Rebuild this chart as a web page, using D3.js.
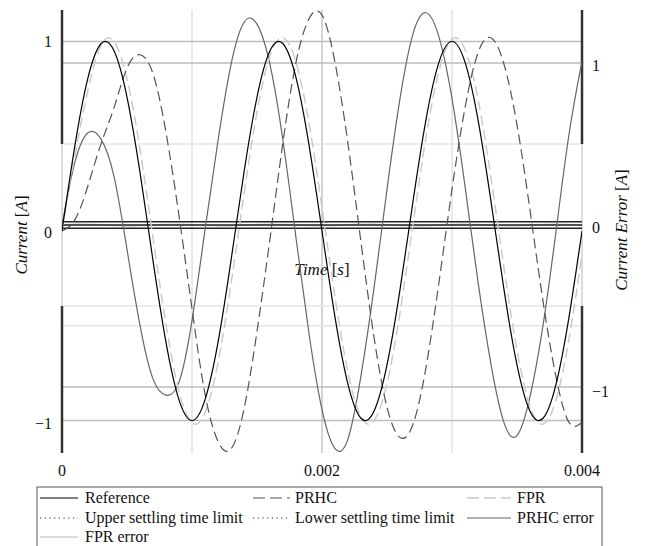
<!DOCTYPE html>
<html>
<head>
<meta charset="utf-8">
<script src="https://cdn.jsdelivr.net/npm/d3@7/dist/d3.min.js"></script>
<style>
  html, body { margin: 0; padding: 0; background: #fff; }
  svg { display: block; }
</style>
</head>
<body>
<svg id="chart" width="645" height="546" font-family="'Liberation Serif', 'DejaVu Serif', serif"></svg>
<script>
// Sample instants [s]
const timeS = [0, 0.0001, 0.0002, 0.0003, 0.0004, 0.0005, 0.0006, 0.0007, 0.0008, 0.0009,
  0.001, 0.0011, 0.0012, 0.0013, 0.0014, 0.0015, 0.0016, 0.0017, 0.0018, 0.0019,
  0.002, 0.0021, 0.0022, 0.0023, 0.0024, 0.0025, 0.0026, 0.0027, 0.0028, 0.0029,
  0.003, 0.0031, 0.0032, 0.0033, 0.0034, 0.0035, 0.0036, 0.0037, 0.0038, 0.0039, 0.004];

// Currents [A] (left axis)
const reference = [0, 0.454, 0.809, 0.988, 0.951, 0.707, 0.309, -0.156, -0.588, -0.891,
  -1, -0.891, -0.588, -0.156, 0.309, 0.707, 0.951, 0.988, 0.809, 0.454,
  0, -0.454, -0.809, -0.988, -0.951, -0.707, -0.309, 0.156, 0.588, 0.891,
  1, 0.891, 0.588, 0.156, -0.309, -0.707, -0.951, -0.988, -0.809, -0.454, 0];

const prhc = [0, 0.06, 0.24, 0.46, 0.65, 0.86, 0.93, 0.83, 0.52, 0.08,
  -0.41, -0.86, -1.11, -1.15, -0.94, -0.53, -0.04, 0.47, 0.89, 1.12,
  1.14, 0.89, 0.46, -0.06, -0.56, -0.93, -1.09, -1.02, -0.72, -0.27,
  0.22, 0.65, 0.94, 1.02, 0.88, 0.56, 0.11, -0.37, -0.77, -1.01, -1.01];

const fpr = [0, 0.40, 0.746, 0.980, 1.00, 0.804, 0.431, -0.036, -0.494, -0.846,
  -1.012, -0.958, -0.696, -0.281, 0.195, 0.628, 0.925, 1.019, 0.892, 0.570,
  0.124, -0.349, -0.746, -0.980, -1.001, -0.804, -0.431, 0.036, 0.494, 0.846,
  1.012, 0.958, 0.696, 0.281, -0.195, -0.628, -0.925, -1.019, -0.892, -0.570, -0.124];

// Current errors [A] (right axis)
const prhcError = [0, 0.39, 0.57, 0.53, 0.30, -0.15, -0.62, -0.95, -1.05, -0.97,
  -0.59, -0.03, 0.52, 0.99, 1.25, 1.24, 0.99, 0.52, -0.08, -0.67,
  -1.14, -1.38, -1.32, -0.93, -0.39, 0.22, 0.78, 1.18, 1.31, 1.16,
  0.78, 0.24, -0.35, -0.86, -1.22, -1.30, -1.06, -0.62, -0.04, 0.56, 1.01];

const fprError = [0, 0.006, 0.004, 0.002, -0.003, -0.006, -0.004, 0.001, 0.004, 0.006,
  0.003, -0.002, -0.005, -0.006, -0.002, 0.003, 0.005, 0.004, 0.001, -0.004,
  -0.006, -0.004, 0.002, 0.005, 0.006, 0.002, -0.003, -0.005, -0.005, -0.001,
  0.004, 0.006, 0.003, -0.002, -0.005, -0.005, -0.001, 0.003, 0.005, 0.004, 0];

const settlingUpper = 0.02;
const settlingLower = -0.02;

const xTicks = [0, 0.002, 0.004];
const xTickLabels = ["0", "0.002", "0.004"];
const leftTicks = [1, 0, -1];
const rightTicks = [1, 0, -1];
const xGridMinor = [0.001, 0.003];
const xGridMajor = [0.002];
const leftGrid = [1, -1];
const leftGridLight = [-0.5];
const rightGrid = [1, -1];
const rightGridLight = [0.5, -0.5];

const legendItems = ["Reference", "PRHC", "FPR", "Upper settling time limit",
  "Lower settling time limit", "PRHC error", "FPR error"];

// ---------- layout ----------
const svg = d3.select("#chart");
const plotTop = 10, plotBottom = 453, plotLeft = 62, plotRight = 582;

const x = d3.scaleLinear().domain([0, 0.004]).range([plotLeft, plotRight]);
const yL = d3.scaleLinear().domain([-1, 1]).range([420.5, 41.5]);
const yR = d3.scaleLinear().domain([-1, 1]).range([387, 63]);

const styles = {
  reference:  { stroke: "#000", width: 1.2, dash: null },
  prhc:       { stroke: "#555", width: 1.2, dash: "10,5" },
  fpr:        { stroke: "#c8c8c8", width: 1.4, dash: "10,5" },
  upper:      { stroke: "#222", width: 1.2, dash: "1.2,3.5" },
  lower:      { stroke: "#222", width: 1.2, dash: "1.2,3.5" },
  prhcError:  { stroke: "#666", width: 1.2, dash: null },
  fprError:   { stroke: "#cfcfcf", width: 1.3, dash: null }
};

svg.append("defs").append("clipPath").attr("id", "plotClip")
  .append("rect").attr("x", plotLeft).attr("y", plotTop)
  .attr("width", plotRight - plotLeft).attr("height", plotBottom - plotTop);

const grid = svg.append("g");
// vertical grid
grid.selectAll(".vgm").data(xGridMinor).join("line")
  .attr("x1", d => x(d)).attr("x2", d => x(d))
  .attr("y1", plotTop).attr("y2", plotBottom)
  .attr("stroke", "#e2e2e2").attr("stroke-width", 1.5);
grid.selectAll(".vgM").data(xGridMajor).join("line")
  .attr("x1", d => x(d)).attr("x2", d => x(d))
  .attr("y1", plotTop).attr("y2", plotBottom)
  .attr("stroke", "#c6c6c6").attr("stroke-width", 1.5);
// horizontal grid
function hLines(vals, scale, color) {
  grid.selectAll(null).data(vals).join("line")
    .attr("x1", plotLeft).attr("x2", plotRight)
    .attr("y1", d => scale(d)).attr("y2", d => scale(d))
    .attr("stroke", color).attr("stroke-width", 1.5);
}
hLines(leftGridLight, yL, "#e6e6e6");
hLines(rightGridLight, yR, "#e6e6e6");
hLines(leftGrid, yL, "#bdbdbd");
hLines(rightGrid, yR, "#bdbdbd");

// spines: light in the middle band, dark outside of it
[plotLeft, plotRight].forEach(px => {
  grid.append("line").attr("x1", px).attr("x2", px)
    .attr("y1", yR(0.5)).attr("y2", yR(-0.5))
    .attr("stroke", "#d0d0d0").attr("stroke-width", 1.5);
  grid.append("line").attr("x1", px).attr("x2", px)
    .attr("y1", plotTop).attr("y2", yR(0.5))
    .attr("stroke", "#333").attr("stroke-width", 2.5);
  grid.append("line").attr("x1", px).attr("x2", px)
    .attr("y1", yR(-0.5)).attr("y2", plotBottom)
    .attr("stroke", "#333").attr("stroke-width", 2.5);
});

// axis tick labels
const labels = svg.append("g").attr("font-size", 16).attr("fill", "#111");
labels.selectAll(".xt").data(xTicks).join("text")
  .attr("x", d => x(d)).attr("y", 476)
  .attr("text-anchor", "middle")
  .text((d, i) => xTickLabels[i]);
const fmt = d3.format("d");
labels.selectAll(".lt").data(leftTicks).join("text")
  .attr("x", 52).attr("y", d => yL(d) + 5 + (d < 0 ? 3 : d === 0 ? 2 : 0))
  .attr("text-anchor", "end")
  .text(d => fmt(d));
labels.selectAll(".rt").data(rightTicks).join("text")
  .attr("x", 592).attr("y", d => yR(d) + 8 + (d < 0 ? 2 : 0))
  .attr("text-anchor", "start")
  .text(d => fmt(d));

// axis titles
const leftTitle = svg.append("text").attr("font-size", 17).attr("fill", "#111")
  .attr("transform", "translate(27,235) rotate(-90)").attr("text-anchor", "middle");
leftTitle.append("tspan").attr("font-style", "italic").text("Current");
leftTitle.append("tspan").text(" [");
leftTitle.append("tspan").attr("font-style", "italic").text("A");
leftTitle.append("tspan").text("]");

const rightTitle = svg.append("text").attr("font-size", 17).attr("fill", "#111")
  .attr("transform", "translate(627,230) rotate(-90)").attr("text-anchor", "middle");
rightTitle.append("tspan").attr("font-style", "italic").text("Current Error");
rightTitle.append("tspan").text(" [");
rightTitle.append("tspan").attr("font-style", "italic").text("A");
rightTitle.append("tspan").text("]");

const timeTitle = svg.append("text").attr("font-size", 17).attr("fill", "#111")
  .attr("x", 322).attr("y", 275).attr("text-anchor", "middle");
timeTitle.append("tspan").attr("font-style", "italic").text("Time");
timeTitle.append("tspan").text(" [");
timeTitle.append("tspan").attr("font-style", "italic").text("s");
timeTitle.append("tspan").text("]");

// curves
const plot = svg.append("g").attr("clip-path", "url(#plotClip)");
function drawSeries(values, scale, st) {
  const line = d3.line()
    .x((d, i) => x(timeS[i]))
    .y(d => scale(d))
    .curve(d3.curveNatural);
  plot.append("path").datum(values)
    .attr("d", line)
    .attr("fill", "none")
    .attr("stroke", st.stroke)
    .attr("stroke-width", st.width)
    .attr("stroke-dasharray", st.dash)
    .attr("stroke-linejoin", "round");
}
drawSeries(fprError, yR, styles.fprError);

// settling limits and error-axis zero line
[settlingUpper, 0, settlingLower].forEach(v => {
  plot.append("line")
    .attr("x1", plotLeft).attr("x2", plotRight)
    .attr("y1", yR(v)).attr("y2", yR(v))
    .attr("stroke", "#222").attr("stroke-width", 1.6);
});

drawSeries(prhcError, yR, styles.prhcError);
drawSeries(fpr, yL, styles.fpr);
drawSeries(prhc, yL, styles.prhc);
drawSeries(reference, yL, styles.reference);

// legend
const legend = svg.append("g").attr("font-size", 16).attr("fill", "#111");
legend.append("rect").attr("x", 37).attr("y", 487)
  .attr("width", 565).attr("height", 80)
  .attr("fill", "#fff").attr("stroke", "#555").attr("stroke-width", 1);
const legendStyles = [styles.reference, styles.prhc, styles.fpr, styles.upper,
  styles.lower, styles.prhcError, styles.fprError];
const colSym = [40, 253, 467], colSymEnd = [78, 290, 511], colText = [85, 295, 517];
const rowY = [498, 518, 537];
legendItems.forEach((name, i) => {
  const c = i % 3, r = Math.floor(i / 3);
  const st = legendStyles[i];
  legend.append("line")
    .attr("x1", colSym[c]).attr("x2", colSymEnd[c])
    .attr("y1", rowY[r]).attr("y2", rowY[r])
    .attr("stroke", st.stroke).attr("stroke-width", st.width)
    .attr("stroke-dasharray", st.dash === "10,5" ? "12,5" : st.dash);
  legend.append("text").attr("x", colText[c]).attr("y", rowY[r] + 5).attr("fill", "#111").text(name);
});
</script>
</body>
</html>
